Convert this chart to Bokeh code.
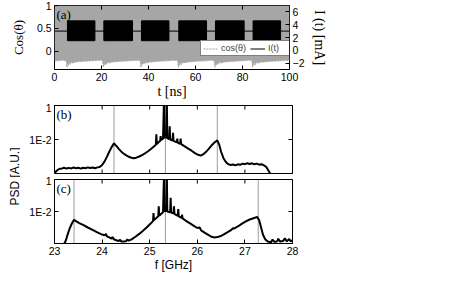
import numpy as np
from bokeh.plotting import figure
from bokeh.models import (Range1d, LinearAxis, FixedTicker, Span, Label,
                          Legend, LegendItem)
from bokeh.layouts import column, row
from bokeh.embed import file_html
from bokeh.resources import INLINE

SANS = "Liberation Sans"
SERIF = "Liberation Serif"
TICK_FS = "10.5px"

# ---------------- panel (a) data ----------------
t_ticks = [0, 20, 40, 60, 80, 100]
cos_ticks = [0, 0.5, 1]
i_ticks = [-2, 0, 2, 4, 6]

# envelope of the fast cos(theta) oscillation: lower edge (upper edge is 1)
cos_t = [0, 1.5, 3, 4.5,
         5.0, 5.3, 5.6, 5.9, 6.2, 6.6, 7.0, 8.0, 8.5, 10, 12, 14, 16, 18, 20,
         20.5, 20.8, 21.1, 21.4, 21.7, 22.1, 22.5, 23.5, 24, 26, 28, 30, 32, 34, 36,
         36.5, 36.8, 37.1, 37.4, 37.7, 38.1, 38.5, 39.5, 40, 42, 44, 46, 48, 50, 52,
         52.4, 52.7, 53.0, 53.3, 53.6, 54.0, 54.4, 55.4, 56, 58, 60, 62, 64, 66, 68,
         68.0, 68.3, 68.6, 68.9, 69.2, 69.6, 70.0, 71, 71.5, 74, 76, 78, 80, 82, 84,
         84.0, 84.3, 84.6, 84.9, 85.2, 85.6, 86.0, 87, 87.5, 90, 92, 94, 96, 98, 100]
cos_low = [-0.21, -0.21, -0.20, -0.20,
           -0.22, -0.35, -0.23, -0.31, -0.24, -0.29, -0.24, -0.26, -0.24, -0.23, -0.22, -0.215, -0.21, -0.20, -0.20,
           -0.22, -0.35, -0.23, -0.31, -0.24, -0.29, -0.24, -0.26, -0.24, -0.23, -0.22, -0.215, -0.21, -0.20, -0.20,
           -0.22, -0.35, -0.23, -0.30, -0.24, -0.28, -0.24, -0.26, -0.24, -0.23, -0.22, -0.215, -0.21, -0.20, -0.20,
           -0.22, -0.35, -0.23, -0.31, -0.24, -0.29, -0.24, -0.26, -0.24, -0.23, -0.22, -0.215, -0.21, -0.20, -0.20,
           -0.22, -0.35, -0.23, -0.30, -0.24, -0.29, -0.24, -0.26, -0.24, -0.23, -0.22, -0.215, -0.21, -0.20, -0.20,
           -0.22, -0.35, -0.23, -0.31, -0.24, -0.29, -0.24, -0.26, -0.24, -0.23, -0.22, -0.215, -0.21, -0.20, -0.20]
cos_high = 1.0

# current I(t): bursts of fast modulation and the bias level between them
burst_start = [5.5, 21.0, 37.0, 52.9, 68.5, 84.5]
burst_end = [17.2, 33.2, 48.7, 64.7, 80.7, 96.2]
burst_low = 1.5
burst_high = 4.6
bias_t = [0, 100]
bias_i = [3.0, 3.0]

# ---------------- panels (b), (c) data ----------------
f_ticks = [23, 24, 25, 26, 27, 28]
psd_ticks = [1e-4, 1e-2, 1]
psd_label_ticks = [1e-2, 1]
psd_tick_labels = {1e-2: "1E-2", 1: "1"}

f_b = [23.00, 23.04, 23.08, 23.12, 23.16, 23.20, 23.25, 23.30, 23.35, 23.40, 23.45,
       23.50, 23.55, 23.60, 23.65, 23.70, 23.75, 23.80, 23.85, 23.90, 23.95,
       24.00, 24.05, 24.10, 24.15, 24.20, 24.25, 24.30, 24.35, 24.40, 24.45, 24.50,
       24.55, 24.60, 24.66, 24.72, 24.78, 24.85, 24.92, 25.00, 25.05, 25.10, 25.13,
       25.14, 25.15, 25.19, 25.22, 25.23, 25.24, 25.28, 25.30, 25.31, 25.33, 25.35,
       25.36, 25.37, 25.41, 25.42, 25.43, 25.48, 25.49, 25.50, 25.57, 25.58, 25.59,
       25.64, 25.65, 25.66, 25.72, 25.80, 25.88, 25.95, 26.02, 26.07, 26.12, 26.18,
       26.24, 26.30, 26.36, 26.42, 26.46, 26.50, 26.55, 26.60, 26.65, 26.70, 26.75,
       26.80, 26.85, 26.90, 26.95, 27.00, 27.05, 27.10, 27.15, 27.20, 27.25, 27.30,
       27.35, 27.40, 27.45, 27.50, 27.55]
psd_b_exp = [-4.00, -3.85, -3.76, -3.72, -3.70, -3.66, -3.71, -3.67, -3.70, -3.65, -3.69,
             -3.66, -3.71, -3.66, -3.69, -3.64, -3.68, -3.65, -3.69, -3.64, -3.62,
             -3.50, -3.30, -3.02, -2.72, -2.45, -2.23, -2.38, -2.55, -2.70, -2.82, -2.92,
             -3.00, -3.06, -3.10, -3.07, -3.00, -2.90, -2.78, -2.62, -2.50, -2.38, -2.30,
             -1.70, -2.27, -2.15, -2.08, -1.80, -2.03, -1.95, 0.30, -1.90, -1.87, -1.90,
             0.30, -1.92, -1.98, -1.23, -2.00, -2.06, -1.60, -2.08, -2.17, -1.95, -2.19,
             -2.25, -1.95, -2.27, -2.38, -2.52, -2.66, -2.80, -2.90, -2.95, -2.88, -2.74,
             -2.55, -2.35, -2.18, -2.05, -2.30, -2.72, -3.10, -3.32, -3.45, -3.50, -3.47,
             -3.52, -3.46, -3.49, -3.42, -3.45, -3.40, -3.44, -3.40, -3.46, -3.42, -3.48,
             -3.45, -3.52, -3.62, -3.85, -4.10]
marks_b = [24.25, 25.33, 26.42]

f_c = [23.00, 23.10, 23.20, 23.24, 23.28, 23.32, 23.36, 23.41, 23.46, 23.52, 23.60,
       23.70, 23.80, 23.90, 24.00, 24.05, 24.08, 24.10, 24.15, 24.20, 24.22, 24.25,
       24.30, 24.35, 24.38, 24.40, 24.45, 24.50, 24.53, 24.56, 24.62, 24.70, 24.78,
       24.86, 24.94, 25.02, 25.07, 25.08, 25.09, 25.14, 25.18, 25.19, 25.20, 25.25,
       25.28, 25.30, 25.31, 25.33, 25.35, 25.36, 25.37, 25.43, 25.44, 25.45, 25.50,
       25.51, 25.52, 25.59, 25.60, 25.61, 25.67, 25.68, 25.69, 25.76, 25.84, 25.92,
       26.00, 26.05, 26.08, 26.16, 26.24, 26.30, 26.36, 26.42, 26.48, 26.55, 26.62,
       26.70, 26.75, 26.78, 26.86, 26.94, 27.02, 27.10, 27.18, 27.26, 27.30, 27.34,
       27.38, 27.43, 27.48, 27.55, 27.58, 27.62, 27.68, 27.70, 27.74, 27.80, 27.84,
       27.88, 27.93, 27.96, 28.00]
psd_c_exp = [-4.05, -4.05, -4.05, -3.80, -3.40, -3.05, -2.78, -2.52, -2.62, -2.72, -2.84,
             -3.00, -3.15, -3.30, -3.44, -3.48, -3.40, -3.55, -3.62, -3.70, -3.60, -3.74,
             -3.80, -3.84, -3.76, -3.87, -3.88, -3.86, -3.75, -3.82, -3.74, -3.58, -3.40,
             -3.20, -2.98, -2.75, -2.60, -2.10, -2.55, -2.40, -2.30, -1.68, -2.26, -2.12,
             -2.05, 0.30, -2.00, -1.95, -1.98, 0.30, -2.00, -2.05, -1.14, -2.07, -2.12,
             -1.68, -2.15, -2.28, -1.85, -2.30, -2.40, -2.20, -2.43, -2.58, -2.73, -2.88,
             -3.03, -3.00, -3.18, -3.33, -3.48, -3.58, -3.62, -3.60, -3.55, -3.45, -3.32,
             -3.18, -3.05, -3.06, -2.92, -2.76, -2.62, -2.50, -2.42, -2.34, -2.55, -3.00,
             -3.45, -3.75, -3.88, -3.92, -3.75, -3.90, -3.86, -3.70, -3.88, -3.85, -3.68,
             -3.87, -3.72, -3.86, -3.80]
marks_c = [23.41, 25.33, 27.28]

psd_b = [10.0 ** v for v in psd_b_exp]
psd_c = [10.0 ** v for v in psd_c_exp]

# ---------------- layout constants ----------------
W = 330
LB, RB = 54, 38
DW = 20
GRAY = "#a6a6a6"
TICK_LEN = 8  # marker size; half of it lies inside the frame


def style(ax):
    ax.major_tick_in = 4
    ax.major_tick_out = 0
    ax.minor_tick_in = 0
    ax.minor_tick_out = 0
    ax.axis_line_color = None
    ax.major_tick_line_color = "black"
    ax.major_label_text_font = SANS
    ax.major_label_text_color = "black"
    ax.major_label_standoff = 3
    ax.major_label_text_font_size = TICK_FS
    ax.axis_label_text_font_style = "normal"
    ax.axis_label_text_color = "black"


def no_grid(p):
    for g in p.grid:
        g.visible = False


def edge_ticks_x(p, ticks, yval, **kw):
    # inward tick marks on a horizontal frame edge (outer half clipped by the frame)
    p.scatter(x=ticks, y=yval, marker="dash", angle=np.pi / 2, size=TICK_LEN,
              line_color="black", line_width=1, **kw)


def edge_ticks_y(p, ticks, xval, **kw):
    p.scatter(x=xval, y=ticks, marker="dash", size=TICK_LEN,
              line_color="black", line_width=1, **kw)


# ---------------- panel (a) ----------------
pa = figure(width=W, height=101, x_range=Range1d(0, 100), y_range=Range1d(-0.4, 1.0),
            output_backend="svg", toolbar_location=None,
            min_border_left=LB, min_border_right=RB, min_border_top=5, min_border_bottom=27)
pa.extra_y_ranges = {"cur": Range1d(-3, 7)}
no_grid(pa)
pa.outline_line_color = "black"

pa.varea(x=cos_t, y1=cos_low, y2=cos_high, fill_color=GRAY)
r_cos = pa.line(cos_t, cos_low, line_color=GRAY, line_dash="2 1", line_width=1)
r_i = pa.line(bias_t, bias_i, y_range_name="cur", line_color="black", line_width=1)
pa.quad(left=burst_start, right=burst_end, bottom=burst_low, top=burst_high,
        y_range_name="cur", fill_color="black", line_color="black")
edge_ticks_x(pa, t_ticks, pa.y_range.end)

xa = pa.xaxis[0]
xa.ticker = FixedTicker(ticks=t_ticks)
style(xa)
xa.axis_label = "t [ns]"
xa.axis_label_text_font = SERIF
xa.axis_label_text_font_size = "14px"
xa.axis_label_standoff = 0

ya = pa.yaxis[0]
ya.ticker = FixedTicker(ticks=cos_ticks)
ya.major_label_overrides = {0: "0", 0.5: "0.5", 1: "1"}
style(ya)
ya.axis_label = "Cos(θ)"
ya.axis_label_text_font = SERIF
ya.axis_label_text_font_size = "13px"
ya.axis_label_standoff = 8

ya_r = LinearAxis(y_range_name="cur", ticker=FixedTicker(ticks=i_ticks), axis_label="I (t) [mA]")
style(ya_r)
ya_r.axis_label_text_font = SERIF
ya_r.axis_label_text_font_size = "14px"
ya_r.axis_label_standoff = 5
pa.add_layout(ya_r, "right")

legend = Legend(items=[LegendItem(label="cos(θ)", renderers=[r_cos]),
                       LegendItem(label="I(t)", renderers=[r_i])],
                orientation="horizontal", location=(146, 13),
                label_text_font=SANS, label_text_font_size="9px",
                glyph_width=15, glyph_height=9, label_height=9, label_standoff=3,
                spacing=4, padding=2, margin=0,
                border_line_color="black", border_line_width=1,
                background_fill_color="white", background_fill_alpha=1.0)
pa.add_layout(legend)

pa.add_layout(Label(x=0, y=1.0, x_offset=2, y_offset=-1, text="(a)", text_font=SERIF,
                    text_font_size="13px", text_color="black",
                    text_baseline="top", text_align="left"))


# ---------------- panels (b), (c) ----------------
def psd_fig(h, top, bottom, f, psd, marks, tag, show_x):
    p = figure(width=W - DW, height=h, x_range=Range1d(23, 28), y_range=Range1d(1e-4, 1),
               y_axis_type="log", output_backend="svg", toolbar_location=None,
               x_axis_location="below" if show_x else None,
               min_border_left=LB - DW, min_border_right=RB,
               min_border_top=top, min_border_bottom=bottom)
    no_grid(p)
    p.outline_line_color = "black"
    for m in marks:
        p.add_layout(Span(location=m, dimension="height", line_color="#3a3a3a",
                          line_dash="1 1", line_width=1, level="underlay"))
    p.line(f, psd, line_color="black", line_width=2)

    edge_ticks_x(p, f_ticks, p.y_range.end)
    edge_ticks_y(p, psd_ticks, p.x_range.end)
    if show_x:
        xb = p.xaxis[0]
        xb.ticker = FixedTicker(ticks=f_ticks)
        style(xb)
        xb.axis_label = "f [GHz]"
        xb.axis_label_text_font = SANS
        xb.axis_label_text_font_size = "12px"
        xb.axis_label_standoff = 0
    else:
        edge_ticks_x(p, f_ticks, p.y_range.start)

    yb = p.yaxis[0]
    yb.ticker = FixedTicker(ticks=psd_label_ticks)
    yb.major_label_overrides = psd_tick_labels
    style(yb)

    p.add_layout(Label(x=23, y=1.0, x_offset=2, y_offset=-1, text=tag, text_font=SERIF,
                       text_font_size="13px", text_color="black",
                       text_baseline="top", text_align="left"))
    return p


HB, HC = 73, 100
pb = psd_fig(HB, 4, 1, f_b, psd_b, marks_b, "(b)", False)
pc = psd_fig(HC, 5, 27, f_c, psd_c, marks_c, "(c)", True)

H_BC = HB + HC
pd = figure(width=DW, height=H_BC, x_range=Range1d(0, DW), y_range=Range1d(0, H_BC),
            x_axis_location=None, y_axis_location=None, output_backend="svg",
            toolbar_location=None, min_border=0, outline_line_color=None)
no_grid(pd)
pd.add_layout(Label(x=14, y=98, text="PSD [A.U.]", angle=90, angle_units="deg",
                    text_align="center", text_baseline="middle", text_font=SANS,
                    text_font_size="12px", text_color="black"))

layout = column(pa, row(pd, column(pb, pc)))

open("out.html", "w").write(file_html(layout, INLINE))
